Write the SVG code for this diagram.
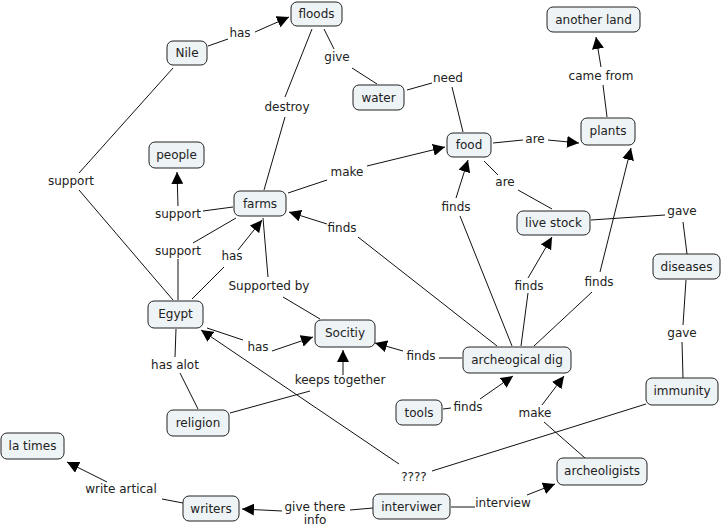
<svg xmlns="http://www.w3.org/2000/svg" width="722" height="528" viewBox="0 0 722 528">
<defs>
<marker id="ah" viewBox="0 0 10 10" refX="10" refY="5" markerWidth="12" markerHeight="12" markerUnits="userSpaceOnUse" orient="auto">
<path d="M0,0 L10,5 L0,10 z" fill="#000"/>
</marker>
</defs>
<style>
text{font-family:"DejaVu Sans",Verdana,sans-serif;font-size:12px;fill:#222;text-anchor:middle;dominant-baseline:central}
.n rect{fill:#eef3f6;stroke:#222;stroke-width:1}
.c line,.c polyline{stroke:#111;stroke-width:1;fill:none}
.a{marker-end:url(#ah)}
</style>
<rect width="722" height="528" fill="#fff"/>
<g class="c">
<line x1="208" y1="46" x2="228" y2="39"/><line class="a" x1="255" y1="32" x2="289" y2="17"/>
<line x1="324" y1="29" x2="334" y2="49"/><line x1="352" y1="68" x2="377" y2="84"/>
<line x1="312" y1="29" x2="285" y2="97"/><line x1="285" y1="117" x2="264" y2="190"/>
<line x1="407" y1="90" x2="432" y2="83"/><line x1="452" y1="87" x2="463" y2="132"/>
<line x1="288" y1="193" x2="327" y2="180"/><line class="a" x1="367" y1="166" x2="445" y2="147"/>
<line x1="493" y1="143" x2="523" y2="140"/><line class="a" x1="548" y1="140" x2="579" y2="143"/>
<line x1="607" y1="117" x2="603" y2="85"/><line class="a" x1="601" y1="67" x2="596" y2="37"/>
<line x1="484" y1="161" x2="498" y2="175"/><line x1="518" y1="190" x2="552" y2="209"/>
<line x1="591" y1="220" x2="665" y2="215"/><line x1="683" y1="222" x2="687" y2="254"/>
<line x1="686" y1="280" x2="683" y2="325"/><line x1="682" y1="342" x2="683" y2="378"/>
<line x1="173" y1="68" x2="79" y2="173"/><line x1="79" y1="190" x2="173" y2="300"/>
<line x1="233" y1="207" x2="203" y2="211"/><line class="a" x1="178" y1="206" x2="177" y2="172"/>
<line x1="178" y1="300" x2="178" y2="259"/><line x1="193" y1="243" x2="236" y2="218"/>
<line x1="192" y1="299" x2="224" y2="267"/><line class="a" x1="238" y1="250" x2="262" y2="220"/>
<line x1="320" y1="319" x2="283" y2="297"/><line x1="268" y1="277" x2="263" y2="218"/>
<line x1="497" y1="346" x2="358" y2="237"/><line class="a" x1="327" y1="224" x2="289" y2="212"/>
<line x1="207" y1="328" x2="243" y2="340"/><line class="a" x1="272" y1="351" x2="313" y2="337"/>
<line x1="176" y1="329" x2="175" y2="357"/><line x1="180" y1="373" x2="198" y2="409"/>
<line x1="230" y1="413" x2="310" y2="391"/><line class="a" x1="343" y1="375" x2="343" y2="350"/>
<line x1="462" y1="358" x2="439" y2="358"/><line class="a" x1="403" y1="351" x2="375" y2="343"/>
<line x1="512" y1="346" x2="460" y2="216"/><line class="a" x1="456" y1="198" x2="468" y2="160"/>
<line x1="521" y1="346" x2="528" y2="293"/><line class="a" x1="528" y1="278" x2="552" y2="237"/>
<line x1="534" y1="346" x2="592" y2="292"/><line class="a" x1="600" y1="272" x2="631" y2="148"/>
<line x1="443" y1="409" x2="451" y2="408"/><line class="a" x1="480" y1="399" x2="513" y2="376"/>
<line x1="585" y1="458" x2="544" y2="422"/><line class="a" x1="542" y1="405" x2="564" y2="376"/>
<line x1="646" y1="404" x2="432" y2="471"/><line class="a" x1="399" y1="464" x2="201" y2="330"/>
<line x1="451" y1="507" x2="475" y2="507"/><line class="a" x1="527" y1="495" x2="555" y2="484"/>
<line x1="373" y1="508" x2="350" y2="510"/><line class="a" x1="282" y1="511" x2="242" y2="509"/>
<line x1="183" y1="503" x2="162" y2="499"/><line class="a" x1="107" y1="482" x2="67" y2="462"/>
</g>
<g id="labels">
<text x="240" y="33">has</text>
<text x="337" y="57">give</text>
<text x="287" y="107">destroy</text>
<text x="448" y="78">need</text>
<text x="347" y="172">make</text>
<text x="535" y="139">are</text>
<text x="601" y="76">came from</text>
<text x="505" y="182">are</text>
<text x="682" y="211">gave</text>
<text x="682" y="333">gave</text>
<text x="71" y="181">support</text>
<text x="178" y="214">support</text>
<text x="178" y="251">support</text>
<text x="232" y="256">has</text>
<text x="342" y="228">finds</text>
<text x="269" y="286">Supported by</text>
<text x="258" y="347">has</text>
<text x="175" y="365">has alot</text>
<text x="340" y="380">keeps together</text>
<text x="456" y="207">finds</text>
<text x="529" y="286">finds</text>
<text x="599" y="282">finds</text>
<text x="421" y="356">finds</text>
<text x="468" y="407">finds</text>
<text x="535" y="413">make</text>
<text x="414" y="477">????</text>
<text x="503" y="503">interview</text>
<text x="315" y="507">give there</text>
<text x="315" y="520">info</text>
<text x="121" y="489">write artical</text>
</g>
<g id="floods" class="n"><rect x="291" y="2" width="51" height="24" rx="6"/><text x="316.5" y="14">floods</text></g>
<g id="nile" class="n"><rect x="167" y="41" width="40" height="24" rx="6"/><text x="187" y="53">Nile</text></g>
<g id="people" class="n"><rect x="149" y="142" width="55" height="26" rx="6"/><text x="176.5" y="155">people</text></g>
<g id="farms" class="n"><rect x="234" y="191" width="52" height="25" rx="6"/><text x="260" y="203.5">farms</text></g>
<g id="water" class="n"><rect x="353" y="85" width="51" height="25" rx="6"/><text x="378.5" y="97.5">water</text></g>
<g id="another-land" class="n"><rect x="547" y="7" width="93" height="25" rx="6"/><text x="593.5" y="19.5">another land</text></g>
<g id="food" class="n"><rect x="447" y="133" width="44" height="24" rx="6"/><text x="469" y="145">food</text></g>
<g id="plants" class="n"><rect x="581" y="118" width="54" height="27" rx="6"/><text x="608" y="131">plants</text></g>
<g id="live-stock" class="n"><rect x="517" y="211" width="73" height="24" rx="6"/><text x="553.5" y="223">live stock</text></g>
<g id="diseases" class="n"><rect x="653" y="254" width="67" height="25" rx="6"/><text x="686.5" y="266.5">diseases</text></g>
<g id="egypt" class="n"><rect x="148" y="301" width="55" height="27" rx="6"/><text x="175.5" y="313.5">Egypt</text></g>
<g id="socitiy" class="n"><rect x="315" y="320" width="60" height="27" rx="6"/><text x="345" y="333">Socitiy</text></g>
<g id="religion" class="n"><rect x="167" y="410" width="62" height="26" rx="6"/><text x="198" y="422.5">religion</text></g>
<g id="la-times" class="n"><rect x="1" y="433" width="63" height="26" rx="6"/><text x="32.5" y="445.5">la times</text></g>
<g id="writers" class="n"><rect x="183" y="496" width="56" height="25" rx="6"/><text x="211" y="509">writers</text></g>
<g id="archeogical-dig" class="n"><rect x="463" y="347" width="108" height="26" rx="6"/><text x="517" y="359.5">archeogical dig</text></g>
<g id="tools" class="n"><rect x="396" y="400" width="46" height="25" rx="6"/><text x="419" y="413">tools</text></g>
<g id="immunity" class="n"><rect x="646" y="378" width="72" height="27" rx="6"/><text x="682" y="390.5">immunity</text></g>
<g id="archeoligists" class="n"><rect x="557" y="458" width="90" height="27" rx="6"/><text x="602" y="471">archeoligists</text></g>
<g id="interviwer" class="n"><rect x="373" y="494" width="77" height="25" rx="6"/><text x="411.5" y="507">interviwer</text></g>
</svg>
